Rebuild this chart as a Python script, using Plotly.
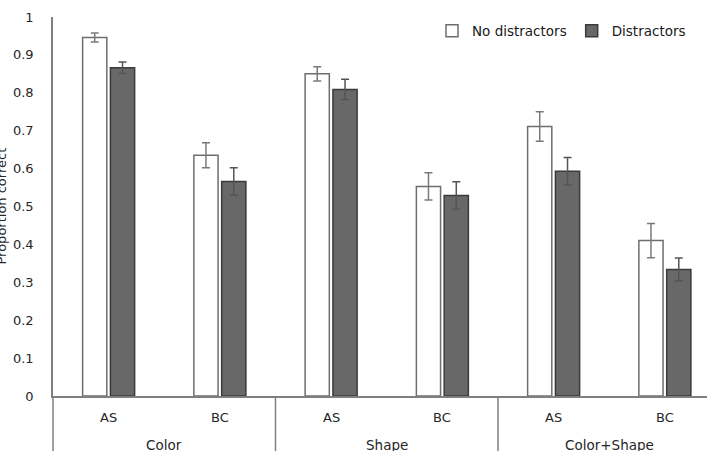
import plotly.graph_objects as go

groups = ["Color", "Shape", "Color+Shape"]
conditions = ["AS", "BC"]
no_dist = [0.946, 0.635, 0.850, 0.553, 0.711, 0.410]
no_dist_err = [0.012, 0.033, 0.019, 0.036, 0.039, 0.045]
dist = [0.866, 0.566, 0.809, 0.529, 0.593, 0.334]
dist_err = [0.015, 0.036, 0.027, 0.036, 0.036, 0.030]
y_ticks = [0, 0.1, 0.2, 0.3, 0.4, 0.5, 0.6, 0.7, 0.8, 0.9, 1]
y_tick_text = ["0", "0.1", "0.2", "0.3", "0.4", "0.5", "0.6", "0.7", "0.8", "0.9", "1"]

n_cat = len(groups) * len(conditions)
xs = list(range(n_cat))
FONT = "DejaVu Sans"
TXT = "#262626"
GRID = "#7f7f7f"

fig = go.Figure()
fig.add_trace(go.Bar(
    x=xs, y=no_dist, name="No distractors",
    marker=dict(color="white", line=dict(color="#6e6e6e", width=1.5)),
    error_y=dict(type="data", array=no_dist_err, color="#7a7a7a", thickness=1.5, width=4),
))
fig.add_trace(go.Bar(
    x=xs, y=dist, name="Distractors",
    marker=dict(color="#686868", line=dict(color="#3a3a3a", width=1.5)),
    error_y=dict(type="data", array=dist_err, color="#555555", thickness=1.5, width=4),
))

L, T, B, W, H = 53, 17, 55, 707, 451
plot_h = H - T - B
plot_w = W - L
cat_w = 111.25
x_max = -0.5 + plot_w / cat_w

fig.update_layout(
    width=W, height=H,
    margin=dict(l=L, r=0, t=T, b=B, pad=0, autoexpand=False),
    paper_bgcolor="white", plot_bgcolor="white",
    barmode="group", bargap=0.5, bargroupgap=0.13,
    showlegend=True,
    legend=dict(orientation="h", x=(432 - L) / plot_w, y=1 - (31 - T) / plot_h,
                xanchor="left", yanchor="middle",
                font=dict(family=FONT, size=13.5, color="#1a1a1a"),
                itemwidth=30, bgcolor="rgba(0,0,0,0)", traceorder="normal"),
    font=dict(family=FONT, size=13, color=TXT),
)

fig.update_xaxes(range=[-0.5, x_max], showticklabels=False, showgrid=False, zeroline=False,
                 showline=True, linecolor=GRID, linewidth=1.5, ticks="", fixedrange=True)
fig.update_yaxes(range=[0, 1], tickvals=y_ticks, ticktext=y_tick_text, showgrid=False,
                 zeroline=False, showline=True, linecolor=GRID, linewidth=1.5, ticks="",
                 ticklabelstandoff=15, tickfont=dict(family=FONT, size=13, color=TXT))

# hierarchical category axis: labels and separators
ext = -B / plot_h - 0.01
fig.add_shape(type="line", xref="paper", yref="paper", x0=0, x1=0, y0=0, y1=ext,
              line=dict(color=GRID, width=1.5))
for gi, g in enumerate(groups):
    for ci, c in enumerate(conditions):
        idx = gi * len(conditions) + ci
        fig.add_annotation(x=idx, y=0, xref="x", yref="paper", text=c, showarrow=False,
                           yshift=-21, yanchor="middle", font=dict(family=FONT, size=13, color=TXT))
    center = gi * len(conditions) + (len(conditions) - 1) / 2
    fig.add_annotation(x=center, y=0, xref="x", yref="paper", text=g, showarrow=False,
                       yshift=-49, yanchor="middle", font=dict(family=FONT, size=13.5, color=TXT))
    if gi > 0:
        xb = gi * len(conditions) - 0.5
        fig.add_shape(type="line", xref="x", yref="paper", x0=xb, x1=xb, y0=0, y1=ext,
                      line=dict(color=GRID, width=1.5))

fig.add_annotation(text="Proportion correct", xref="paper", yref="paper", x=0, y=0.5,
                   xshift=-52, textangle=-90, showarrow=False, xanchor="center", yanchor="middle",
                   font=dict(family=FONT, size=13, color=TXT))

fig.write_html("out.html")
